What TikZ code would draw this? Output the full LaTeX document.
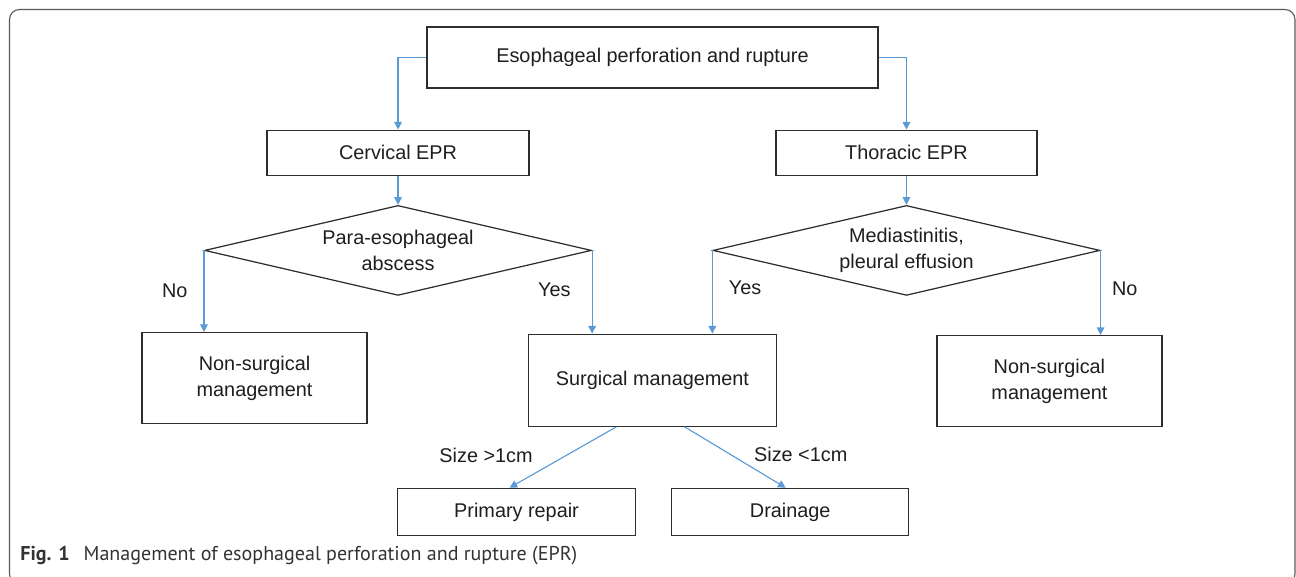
\documentclass[tikz,border=0pt]{standalone}
\usepackage{fontspec}
\setmainfont{Liberation Sans}
\newfontfamily\capfont{PT Sans}
\usetikzlibrary{positioning,shapes.geometric,arrows.meta}

\definecolor{arrblue}{RGB}{91,155,213}
\definecolor{boxline}{RGB}{45,45,45}
\definecolor{txt}{RGB}{30,30,30}

\tikzset{
  box/.style={draw=boxline, line width=0.7pt, text=txt, align=center, inner sep=0pt},
  cond/.style={diamond, draw=boxline, line width=0.7pt, text=txt, align=center, inner sep=0pt,
    shape aspect=4.3, minimum width=7.74cm, minimum height=1.8cm},
  arr/.style={draw=arrblue, line width=0.65pt, -{Triangle[length=4.4pt,width=4.4pt]}},
  lbl/.style={text=txt, inner sep=0pt},
}

\begin{document}
\begin{tikzpicture}[x=0.02cm, y=0.02cm, font=\fontsize{11.3}{14.8}\selectfont]
            \useasboundingbox (0,0) rectangle (1296,-577);
            \draw[draw=black!65, line width=0.65pt, rounded corners=0.2cm] (9.5,-9.5) rectangle (1295,-584);

            \node[box, minimum width=9.02cm, minimum height=1.22cm] at (652.5,-57.5) (epr) {Esophageal perforation and rupture};
            \node[box, minimum width=5.24cm, minimum height=0.9cm, below=0.82cm of epr, xshift=-5.09cm] (cerv) {Cervical EPR};
            \node[box, minimum width=5.22cm, minimum height=0.9cm, below=0.82cm of epr, xshift=5.08cm] (thor) {Thoracic EPR};
            \node[cond, below=0.58cm of cerv] (abs) {Para-esophageal\\abscess};
            \node[cond, below=0.58cm of thor] (med) {Mediastinitis,\\pleural effusion};
            \node[box, minimum width=4.5cm, minimum height=1.82cm, below=0.72cm of abs, xshift=-2.87cm] (nsl) {Non-surgical\\management};
            \node[box, minimum width=4.96cm, minimum height=1.84cm, below=4.9cm of epr] (surg) {Surgical management};
            \node[box, minimum width=4.5cm, minimum height=1.82cm, below=0.78cm of med, xshift=2.86cm] (nsr) {Non-surgical\\management};
            \node[box, minimum width=4.76cm, minimum height=0.94cm, below=1.22cm of surg, xshift=-2.72cm] (prim) {Primary repair};
            \node[box, minimum width=4.74cm, minimum height=0.94cm, right=0.7cm of prim] (drain) {Drainage};

            \draw[arr] (epr.west) -| (cerv.north);
            \draw[arr] (epr.east) -| (thor.north);
            \draw[arr] (cerv.south) -- (abs.north);
            \draw[arr] (thor.south) -- (med.north);
            \draw[arr] (abs.west) -- (abs.west |- nsl.north) node[lbl, pos=0.5, left=0.32cm] {No};
            \draw[arr] (abs.east) -- (abs.east |- surg.north) node[lbl, pos=0.47, left=0.42cm] {Yes};
            \draw[arr] (med.west) -- (med.west |- surg.north) node[lbl, pos=0.45, right=0.32cm] {Yes};
            \draw[arr] (med.east) -- (med.east |- nsr.north) node[lbl, pos=0.45, right=0.22cm] {No};
            \draw[arr] ([xshift=-0.72cm]surg.south) -- ([xshift=-0.14cm]prim.north) node[lbl, pos=0.47, left=0.66cm] {Size >1cm};
            \draw[arr] ([xshift=0.64cm]surg.south) -- ([xshift=-0.09cm]drain.north) node[lbl, pos=0.45, right=0.47cm] {Size <1cm};

            \node[lbl, anchor=base west, font=\capfont\fontsize{11.4}{13}\selectfont, text=black!80] at (20,-561) (cap)
              {\textbf{Fig. 1}\hspace{0.7em}Management of esophageal perforation and rupture (EPR)};
        \end{tikzpicture}
\end{document}
